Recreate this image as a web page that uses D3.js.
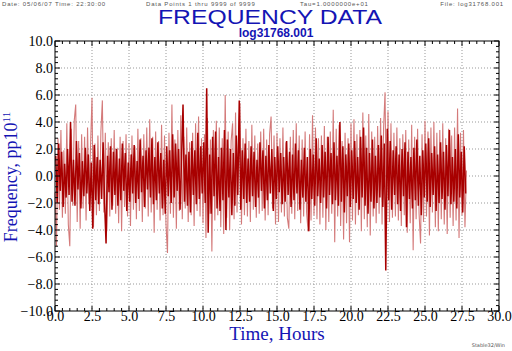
<!DOCTYPE html>
<html>
<head>
<meta charset="utf-8">
<script src="https://cdn.jsdelivr.net/npm/d3@7"></script>
<style>
  body { margin: 0; background: #fff; }
  svg { display: block; }
  .hdr { font-family: "Liberation Sans", Arial, sans-serif; font-size: 6px; letter-spacing: 0.8px; fill: #555; }
  .tick text { font-family: "Liberation Serif", "Times New Roman", serif; font-size: 14px; fill: #000; }
</style>
</head>
<body>
<div id="chart"></div>
<script>
// sample spacing, hours
var step = 0.1;

// x / y ticks
var xTicks = [0, 2.5, 5, 7.5, 10, 12.5, 15, 17.5, 20, 22.5, 25, 27.5, 30];
var yTicks = [-10, -8, -6, -4, -2, 0, 2, 4, 6, 8, 10];

// light (raw) series, one row per hour
var lightValues = [
  -1.2, -5.2, 2.8, -2.5, 3.4, -3.1, 1.9, -2.8, 3.9, -3.6,
  -5.2, 3.5, -2.2, 4.1, 5.3, -3.4, 2.6, -3.9, 3.1, -2.4,
  2.9, -3.3, 3.6, -2.1, 2.2, 5.8, -3.8, 2.4, -2.9, 3.0,
  -2.6, 3.3, 5.6, -2.7, 3.2, -4.1, 2.5, -3.0, 2.8, -2.2,
  3.4, -2.8, 2.1, -3.5, 2.9, -4.1, 2.6, -2.3, 3.1, -3.0,
  2.4, -3.7, 3.0, -2.5, 2.2, -3.2, 3.5, -2.6, 2.8, -3.4,
  3.1, -2.4, 3.6, -3.0, 4.2, -2.7, 2.9, -4.2, 3.3, -2.5,
  2.6, -3.3, 3.8, -2.9, 3.0, -3.6, -5.7, 3.2, -2.8, 5.3,
  -3.1, 2.7, -3.9, 3.4, -2.6, 4.5, -3.2, 2.9, -2.4, 3.6,
  -3.4, 2.5, -2.9, 3.2, -3.7, 3.9, -2.6, 4.4, -3.0, 2.8,
  -3.5, 3.1, -4.6, 4.3, -2.8, 2.7, -5.6, 3.4, -3.3, 4.1,
  -2.9, 3.6, -3.8, 2.8, -4.3, 6.0, -3.1, 3.3, -4.0, 2.6,
  3.9, -3.2, 4.7, -2.7, 3.1, 5.4, -3.6, 2.8, -2.9, 3.5,
  -3.0, 2.6, -3.4, 3.8, -2.5, 3.0, -3.1, 2.4, -2.8, 3.3,
  -2.6, 3.5, -3.3, 2.7, -2.9, 3.1, 4.4, -2.4, 3.0, -3.6,
  3.2, -3.4, 2.8, -2.7, 3.6, -3.0, 2.5, -3.1, -3.9, 2.9,
  -2.8, 3.4, -3.2, 3.9, -2.6, 3.0, -3.5, 2.7, -3.0, 3.3,
  -2.7, -4.1, 3.1, -3.3, 4.5, -2.9, 3.6, -3.2, 2.8, -3.6,
  3.0, -3.1, 3.7, -4.0, 2.9, -3.4, 3.3, -2.8, 4.9, -4.9,
  3.5, -3.0, 3.8, -3.7, 2.6, -4.7, 3.2, -3.5, 2.8, -4.9,
  3.9, -3.3, 4.2, -3.6, 3.1, -2.9, 3.4, -4.1, 4.7, -3.2,
  3.0, -3.8, 4.6, -4.4, 3.3, -3.0, 2.9, -3.5, 3.7, -2.8,
  4.3, -3.6, 3.5, 6.2, -3.9, 4.8, -3.4, 3.9, -3.1, 3.2,
  -3.0, 3.6, -3.3, 2.8, -3.7, 3.1, -2.9, 3.4, -4.2, 2.7,
  -3.5, 3.8, -5.5, 2.9, -3.2, 3.5, -2.8, -5.0, 3.1, -3.4,
  4.1, -3.0, 3.3, -4.4, 3.6, -2.7, 4.0, -3.8, 3.2, -4.1,
  3.4, -3.2, 3.9, -3.6, 2.8, -4.3, 3.5, -3.1, 3.0, -3.7,
  3.6, -3.3, 5.0, -4.6, 3.2, -2.9, 3.4, -3.8, 0.4
];

// dark series, offset half a step
var darkValues = [
  1.5, -2.0, 2.4, -1.1, 1.8, -2.3, 0.9, -1.6, 2.0, -1.4,
  4.0, -1.9, 1.2, -2.2, 2.6, -1.0, 1.7, -2.4, 1.1, -1.5,
  2.1, -1.3, 1.6, -2.6, 1.0, -3.9, 2.3, -1.8, 1.4, -2.1,
  1.2, -1.7, 2.5, -2.0, -5.0, 1.5, -1.2, 2.2, -2.5, 1.8,
  -1.4, 2.0, -2.2, 1.3, -1.8, 2.4, -1.1, 1.7, -2.6, 1.0,
  -1.9, 1.6, -1.3, 2.3, -2.0, 1.1, -1.7, 2.7, -1.2, 1.5,
  -2.3, 1.9, -1.0, 2.1, -1.6, 2.8, -2.1, 1.4, -1.8, 2.5,
  -1.3, 1.7, -2.4, 1.2, -2.8, 2.2, -1.5, 1.9, -2.0, 3.1,
  -1.6, 2.4, -1.1, 2.0, -2.5, 1.3, 5.3, -1.9, 1.6, -2.2,
  1.8, -2.7, 2.6, -1.4, 1.9, -2.1, 3.2, -1.7, 2.2, -1.3,
  2.5, -2.0, 6.5, -4.2, 1.6, -2.8, 2.9, -1.5, 3.3, -2.4,
  1.4, -2.6, 2.1, -1.8, 3.4, -4.0, 2.7, -1.6, 2.0, -2.9,
  1.7, -2.2, 3.0, -1.4, 5.6, -2.5, 1.9, -1.7, 2.4, -2.0,
  1.3, -1.9, 2.2, -1.5, 1.8, -2.3, 1.2, -1.6, 2.5, -1.1,
  1.9, -2.4, 1.5, -1.8, 2.3, -1.3, 2.0, -2.6, 1.4, -1.7,
  2.2, -1.2, 1.7, -2.1, 1.4, -1.9, 2.6, -1.4, 1.8, -2.3,
  1.6, -1.8, 2.4, -1.3, 1.9, -2.5, 1.2, -1.6, 2.1, -1.9,
  1.4, -4.1, 2.0, -1.7, 1.6, -2.2, 2.8, -1.5, 1.3, -2.0,
  2.3, -1.6, 1.8, -2.4, 2.9, -1.4, 1.7, -2.1, 2.5, -1.8,
  1.5, -2.2, 4.0, -1.9, 2.2, -2.7, 1.6, -1.5, 2.4, -2.3,
  1.9, -1.7, 2.6, -2.0, 1.4, -2.5, 2.9, -1.6, 3.6, -2.2,
  2.1, -2.8, 1.7, -1.9, 2.7, -2.4, 1.5, -2.0, 2.3, -1.6,
  3.0, -2.3, 2.4, -7.0, 3.5, -1.8, 2.6, -2.5, 1.9, -1.4,
  2.2, -2.1, 1.6, -2.6, 2.0, -1.5, 2.5, -3.8, 1.8, -1.7,
  1.4, -2.4, 2.1, -1.8, 2.7, -2.2, 1.5, -2.9, 1.9, -1.6,
  2.4, -1.9, 2.8, -2.3, 1.7, -1.4, 2.2, -2.6, 1.6, -2.0,
  2.5, -1.7, 1.8, -2.5, 2.3, -1.5, 3.4, -2.1, 1.4, -1.9,
  2.0, -2.4, 3.1, -1.6, 1.8, -2.7, 2.2, -1.3
];

var W = 512, H = 351;
var margin = { top: 41, right: 13, bottom: 40, left: 55 };
var width = W - margin.left - margin.right;
var height = H - margin.top - margin.bottom;

var svg = d3.select("#chart").append("svg")
    .attr("width", W)
    .attr("height", H);

// header line
svg.append("text").attr("class", "hdr").attr("x", 2).attr("y", 5.5)
    .text("Date: 05/06/07  Time: 22:30:00");
svg.append("text").attr("class", "hdr").attr("x", 146).attr("y", 5.5)
    .text("Data Points 1 thru 9999 of 9999");
svg.append("text").attr("class", "hdr").attr("x", 300).attr("y", 5.5)
    .text("Tau=1.0000000e+01");
svg.append("text").attr("class", "hdr").attr("x", 504).attr("y", 5.5)
    .style("text-anchor", "end")
    .text("File: log31768.001");

// titles
svg.append("text")
    .attr("x", 270).attr("y", 24)
    .style("text-anchor", "middle")
    .style("font-family", "Liberation Sans, Arial, sans-serif")
    .style("font-size", "20px")
    .style("fill", "#1414b4")
    .attr("textLength", 224)
    .attr("lengthAdjust", "spacingAndGlyphs")
    .text("FREQUENCY DATA");
svg.append("text")
    .attr("x", 276).attr("y", 36.5)
    .style("text-anchor", "middle")
    .style("font-family", "Liberation Sans, Arial, sans-serif")
    .style("font-size", "12px")
    .style("font-weight", "bold")
    .style("fill", "#1414b4")
    .text("log31768.001");

var g = svg.append("g")
    .attr("transform", "translate(" + margin.left + "," + margin.top + ")");

var x = d3.scaleLinear().domain([0, 30]).range([0, width]);
var y = d3.scaleLinear().domain([-10, 10]).range([height, 0]);

// dotted grid
g.append("g").selectAll("line")
    .data(xTicks.slice(1, -1))
    .enter().append("line")
    .attr("x1", function(d) { return x(d); })
    .attr("x2", function(d) { return x(d); })
    .attr("y1", 0).attr("y2", height)
    .attr("stroke", "#999").attr("stroke-dasharray", "1,2");
g.append("g").selectAll("line")
    .data(yTicks.slice(1, -1))
    .enter().append("line")
    .attr("y1", function(d) { return y(d); })
    .attr("y2", function(d) { return y(d); })
    .attr("x1", 0).attr("x2", width)
    .attr("stroke", "#999").attr("stroke-dasharray", "1,2");

// series
var lightData = lightValues.map(function(v, i) { return { t: i * step, v: v }; });
var darkData = darkValues.map(function(v, i) { return { t: i * step + step / 2, v: v }; });

var line = d3.line()
    .x(function(d) { return x(d.t); })
    .y(function(d) { return y(d.v); });

g.append("path").datum(lightData)
    .attr("d", line)
    .attr("fill", "none")
    .attr("stroke", "#d47a7a")
    .attr("stroke-width", 1.1);
g.append("path").datum(darkData)
    .attr("d", line)
    .attr("fill", "none")
    .attr("stroke", "#a80000")
    .attr("stroke-width", 1.5);

// minor ticks on all four sides, pointing in
var xMinor = d3.range(0, 30.01, 0.5);
var yMinor = d3.range(-10, 10.01, 0.4);

function tickLen(d, major) { return major.some(function(m) { return Math.abs(m - d) < 1e-6; }) ? 5 : 3; }

var tk = g.append("g").attr("stroke", "#000").attr("stroke-width", 1);
xMinor.forEach(function(d) {
    var l = tickLen(d, xTicks);
    tk.append("line").attr("x1", x(d)).attr("x2", x(d)).attr("y1", height).attr("y2", height - l);
    tk.append("line").attr("x1", x(d)).attr("x2", x(d)).attr("y1", 0).attr("y2", l);
});
yMinor.forEach(function(d) {
    var l = tickLen(d, yTicks);
    tk.append("line").attr("y1", y(d)).attr("y2", y(d)).attr("x1", 0).attr("x2", l);
    tk.append("line").attr("y1", y(d)).attr("y2", y(d)).attr("x1", width).attr("x2", width - l);
});

// frame
g.append("rect")
    .attr("x", 0).attr("y", 0)
    .attr("width", width).attr("height", height)
    .attr("fill", "none").attr("stroke", "#000");

// tick labels
var xAxis = d3.axisBottom(x).tickValues(xTicks).tickSize(0).tickPadding(0)
    .tickFormat(d3.format(".1f"));
g.append("g")
    .attr("class", "x axis")
    .attr("transform", "translate(0," + height + ")")
    .call(xAxis)
    .call(function(s) { s.select(".domain").remove(); });

var yAxis = d3.axisLeft(y).tickValues(yTicks).tickSize(0).tickPadding(2)
    .tickFormat(d3.format(".1f"));
g.append("g")
    .attr("class", "y axis")
    .call(yAxis)
    .call(function(s) { s.select(".domain").remove(); });

// axis titles
svg.append("text")
    .attr("x", 277).attr("y", 340)
    .style("text-anchor", "middle")
    .style("font-family", "Liberation Serif, Times New Roman, serif")
    .style("font-size", "19px")
    .style("fill", "#1414b4")
    .text("Time, Hours");

var yl = svg.append("text")
    .attr("transform", "translate(17,177) rotate(-90)")
    .style("text-anchor", "middle")
    .style("font-family", "Liberation Serif, Times New Roman, serif")
    .style("font-size", "18px")
    .style("fill", "#1414b4");
yl.append("tspan").text("Frequency, pp10");
yl.append("tspan").attr("dy", -7).style("font-size", "11px").text("11");

svg.append("text")
    .attr("x", 505).attr("y", 347)
    .style("text-anchor", "end")
    .style("font-family", "DejaVu Sans, sans-serif")
    .style("font-size", "5px")
    .style("fill", "#555")
    .text("Stable32/Win");
</script>
</body>
</html>
